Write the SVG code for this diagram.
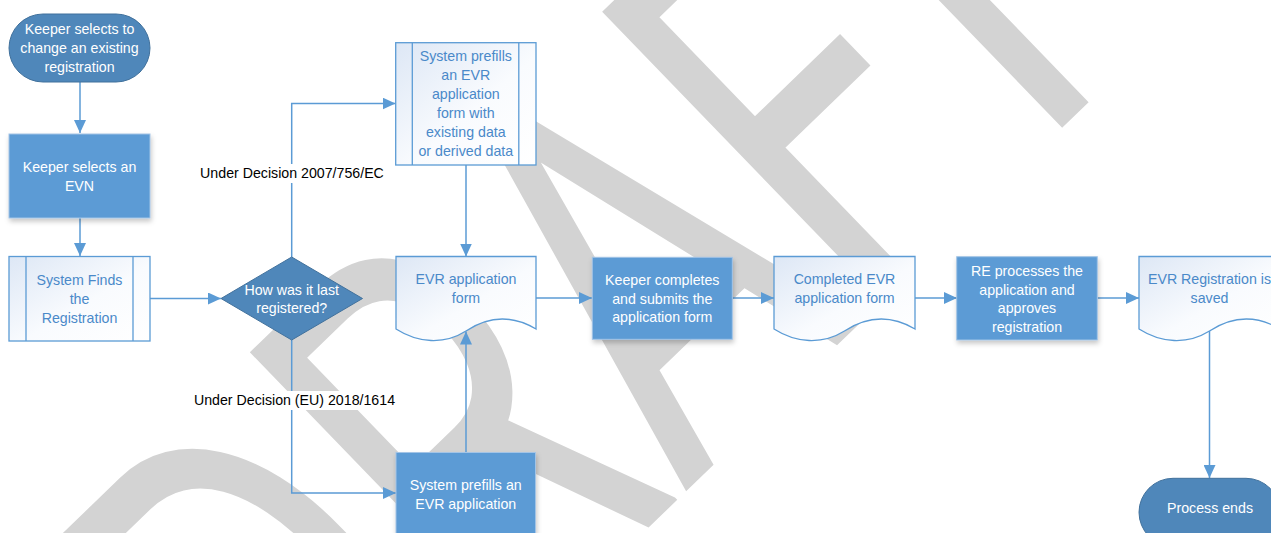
<svg xmlns="http://www.w3.org/2000/svg" width="1271" height="533" viewBox="0 0 1271 533">
<defs>
<style>
.t{font-family:"Liberation Sans",Arial,sans-serif;font-size:14.2px;text-anchor:middle}
.w{fill:#ffffff}
.b{fill:#4a89c9}
.k{fill:#000000}
.conn{fill:none;stroke:#5b9bd5;stroke-width:1.5}
.proc{fill:#5b9bd5;stroke:#a3c4e6;stroke-width:1;filter:url(#sh)}
.term{fill:#4f87ba;stroke:#41719c;stroke-width:1}
.lite{fill:url(#g);stroke:#5b9bd5;stroke-width:1.3}
.in{stroke:#5b9bd5;stroke-width:1.3}
.lbl{fill:#ffffff}
.wm{font-family:Roboto,"Liberation Sans",sans-serif;font-size:567px;fill:#d3d3d3}
</style>
<linearGradient id="g" x1="0" y1="0" x2="1" y2="1">
<stop offset="0" stop-color="#dde7f5"/>
<stop offset="0.55" stop-color="#f9fbfe"/>
<stop offset="1" stop-color="#ffffff"/>
</linearGradient>
<filter id="sh" x="-10%" y="-10%" width="130%" height="140%">
<feDropShadow dx="1" dy="3" stdDeviation="2.5" flood-color="#000000" flood-opacity="0.22"/>
</filter>
<marker id="ah" viewBox="0 0 13 12" refX="13" refY="6" markerWidth="13" markerHeight="12" markerUnits="userSpaceOnUse" orient="auto">
<path d="M0,0 L13,6 L0,12 z" fill="#5b9bd5"/>
</marker>
</defs>

<g id="watermark">
<text class="wm" x="-512 -140 209 560 821" y="0" transform="matrix(0.5033 -0.4865 0.695 0.719 576.9 596.8)">DRAFT</text>
</g>

<g id="connectors">
<path class="conn" d="M80,82 V133" marker-end="url(#ah)"/>
<path class="conn" d="M80,218 V256" marker-end="url(#ah)"/>
<path class="conn" d="M150,298.5 H221" marker-end="url(#ah)"/>
<path class="conn" d="M291.7,257 V103.5 H395.5" marker-end="url(#ah)"/>
<path class="conn" d="M291.7,340 V493 H396" marker-end="url(#ah)"/>
<path class="conn" d="M466,165 V256.5" marker-end="url(#ah)"/>
<path class="conn" d="M466,452 V331.5" marker-end="url(#ah)"/>
<path class="conn" d="M536,298 H592" marker-end="url(#ah)"/>
<path class="conn" d="M732.5,298 H774" marker-end="url(#ah)"/>
<path class="conn" d="M915,298 H957" marker-end="url(#ah)"/>
<path class="conn" d="M1097.5,298 H1139" marker-end="url(#ah)"/>
<path class="conn" d="M1209.5,331 V478" marker-end="url(#ah)"/>
<rect class="lbl" x="197" y="164" width="190" height="19"/>
<text class="t k" x="292" y="178">Under Decision 2007/756/EC</text>
<rect class="lbl" x="191" y="391" width="207" height="19"/>
<text class="t k" x="294.5" y="405">Under Decision (EU) 2018/1614</text>
</g>

<g id="start">
<rect class="term" x="9" y="14" width="141" height="68" rx="34" ry="34"/>
<text class="t w" x="79.5" y="33.5">Keeper selects to</text>
<text class="t w" x="79.5" y="52.5">change an existing</text>
<text class="t w" x="79.5" y="71.5">registration</text>
</g>

<g id="select-evn">
<rect class="proc" x="9" y="134" width="141" height="84"/>
<text class="t w" x="79.5" y="171.5">Keeper selects an</text>
<text class="t w" x="79.5" y="190.5">EVN</text>
</g>

<g id="find-registration">
<rect class="lite" x="9" y="256.5" width="141" height="84.5"/>
<line class="in" x1="26" y1="256.5" x2="26" y2="341"/>
<line class="in" x1="133" y1="256.5" x2="133" y2="341"/>
<text class="t b" x="79.5" y="284.5">System Finds</text>
<text class="t b" x="79.5" y="303.5">the</text>
<text class="t b" x="79.5" y="322.5">Registration</text>
</g>

<g id="decision">
<polygon class="term" points="221,298.5 291.7,257 362.5,298.5 291.7,340"/>
<text class="t w" x="291.7" y="294.5">How was it last</text>
<text class="t w" x="291.7" y="313">registered?</text>
</g>

<g id="prefill-existing">
<rect class="lite" x="395.7" y="42.7" width="140.3" height="122.3"/>
<line class="in" x1="412.3" y1="42.7" x2="412.3" y2="165"/>
<line class="in" x1="518.8" y1="42.7" x2="518.8" y2="165"/>
<text class="t b" x="465.8" y="61">System prefills</text>
<text class="t b" x="465.8" y="80">an EVR</text>
<text class="t b" x="465.8" y="99">application</text>
<text class="t b" x="465.8" y="118">form with</text>
<text class="t b" x="465.8" y="137">existing data</text>
<text class="t b" x="465.8" y="156">or derived data</text>
</g>

<g id="evr-form">
<path class="lite" transform="translate(396,256.5)" d="M0,0 H140 V72.5 C118,59.5 94,58.5 70,74.5 C48,88.5 22,86.5 0,72.5 Z"/>
<text class="t b" x="466" y="284">EVR application</text>
<text class="t b" x="466" y="302.5">form</text>
</g>

<g id="prefill-new">
<rect class="proc" x="396" y="452.5" width="139.5" height="82"/>
<text class="t w" x="465.7" y="489.5">System prefills an</text>
<text class="t w" x="465.7" y="508.5">EVR application</text>
</g>

<g id="keeper-completes">
<rect class="proc" x="592.3" y="257.3" width="140" height="82"/>
<text class="t w" x="662.3" y="284.5">Keeper completes</text>
<text class="t w" x="662.3" y="303.5">and submits the</text>
<text class="t w" x="662.3" y="322">application form</text>
</g>

<g id="completed-form">
<path class="lite" transform="translate(774,256.5)" d="M0,0 H141 V72.5 C119,59.5 95,58.5 70.5,74.5 C48,88.5 22,86.5 0,72.5 Z"/>
<text class="t b" x="844.5" y="284">Completed EVR</text>
<text class="t b" x="844.5" y="303">application form</text>
</g>

<g id="re-processes">
<rect class="proc" x="956.7" y="256.7" width="140.6" height="83.3"/>
<text class="t w" x="1027" y="275.5">RE processes the</text>
<text class="t w" x="1027" y="294.5">application and</text>
<text class="t w" x="1027" y="313">approves</text>
<text class="t w" x="1027" y="332">registration</text>
</g>

<g id="registration-saved">
<path class="lite" transform="translate(1139,256.5)" d="M0,0 H141 V72.5 C119,59.5 95,58.5 70.5,74.5 C48,88.5 22,86.5 0,72.5 Z"/>
<text class="t b" x="1209.5" y="284">EVR Registration is</text>
<text class="t b" x="1209.5" y="303">saved</text>
</g>

<g id="end">
<rect class="term" x="1139" y="478.3" width="141" height="68" rx="34" ry="34"/>
<text class="t w" x="1210" y="513">Process ends</text>
</g>
</svg>
